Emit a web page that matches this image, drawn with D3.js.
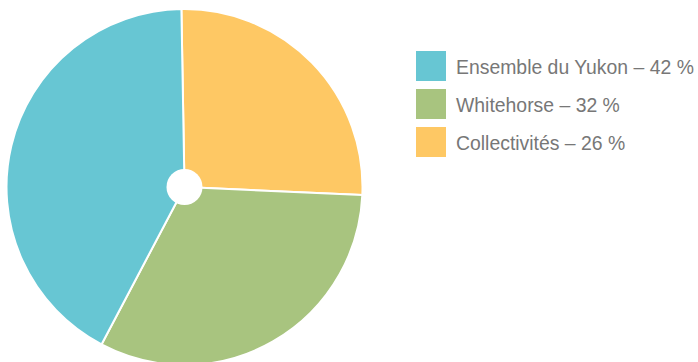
<!DOCTYPE html>
<html><head><meta charset="utf-8">
<script src="https://cdn.jsdelivr.net/npm/d3@7"></script>
<style>html,body{margin:0;padding:0;background:#fff;}svg{display:block;}</style>
</head><body>
<script>
const categories = ["Ensemble du Yukon", "Whitehorse", "Collectivités"];
const values = [42, 32, 26];
const colors = ["#67c6d3", "#a8c47f", "#fec864"];
const pieOrder = [2, 1, 0]; // clockwise from top: Collectivités, Whitehorse, Ensemble du Yukon

const W = 698, H = 362;
const svg = d3.select("body").append("svg").attr("width", W).attr("height", H);
const cx = 184.5, cy = 187, R = 178, hole = 18;
const startA = -1 * Math.PI / 180;

const pie = d3.pie().sort(null).value(i => values[i]).startAngle(startA).endAngle(startA + 2 * Math.PI);
const arcs = pie(pieOrder);
const arc = d3.arc().innerRadius(0).outerRadius(R);
const g = svg.append("g").attr("transform", `translate(${cx},${cy})`);
g.selectAll("path").data(arcs).join("path")
  .attr("d", arc)
  .attr("fill", d => colors[d.data])
  .attr("stroke", "#fff").attr("stroke-width", 2).attr("stroke-linejoin", "round");
g.append("circle").attr("r", hole).attr("fill", "#fff");

const y = d3.scaleBand().domain(categories).range([51, 51 + 38 * 3]).paddingInner(0);
const leg = svg.append("g");
categories.forEach((c, i) => {
  leg.append("rect").attr("x", 416).attr("y", y(c)).attr("width", 30).attr("height", 30).attr("fill", colors[i]);
  leg.append("text").attr("x", 456).attr("y", y(c) + 22.5)
    .attr("font-family", "Liberation Sans, Arial, sans-serif").attr("font-size", 19.4)
    .attr("fill", "#777777").text(`${c} – ${values[i]} %`);
});
</script>
</body></html>
